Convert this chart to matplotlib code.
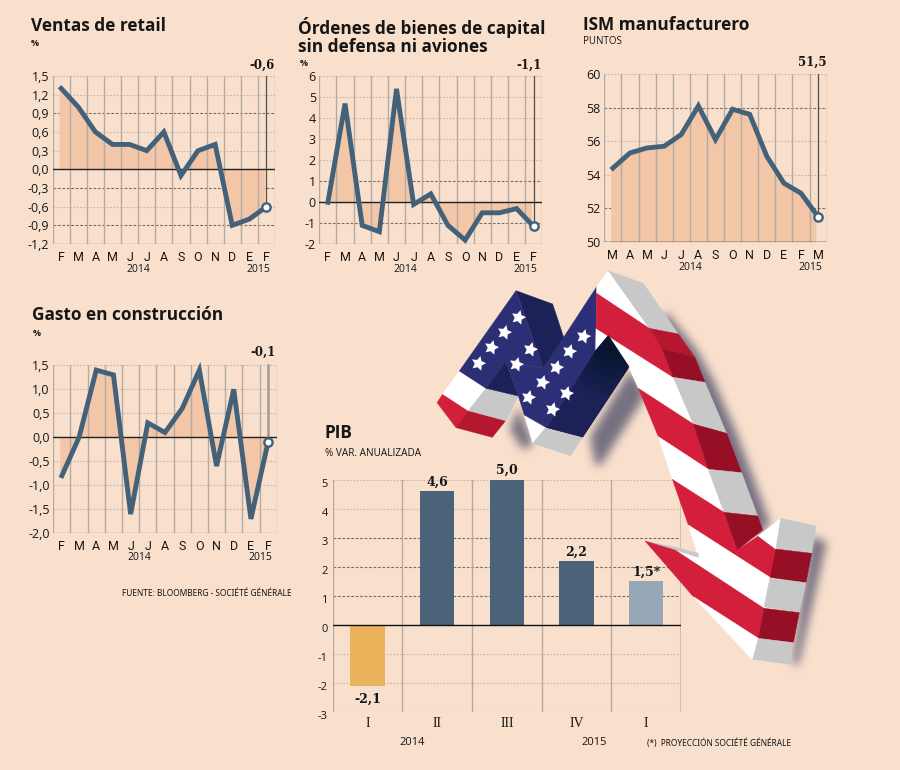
import numpy as np
import matplotlib
matplotlib.use("Agg")
import matplotlib.pyplot as plt
from matplotlib.patches import Polygon
from matplotlib.path import Path
from matplotlib.colors import to_rgb
from matplotlib.transforms import ScaledTranslation

W, H = 900, 770
BG = '#f9e0cd'
FILL = '#f3c6a8'
LINE = '#43627a'
GRID = '#b3aaa2'
TXT = '#161616'
SANS = 'Open Sans'
MONTH = 'Roboto'
SMALL = 'Noto Sans'
SERIF = 'DejaVu Serif'
TITLE = 12.4

# data
retail_months = ['F', 'M', 'A', 'M', 'J', 'J', 'A', 'S', 'O', 'N', 'D', 'E', 'F']
retail = [1.3, 1.0, 0.6, 0.4, 0.4, 0.3, 0.6, -0.1, 0.3, 0.4, -0.9, -0.8, -0.6]
retail_ticks = [1.5, 1.2, 0.9, 0.6, 0.3, 0.0, -0.3, -0.6, -0.9, -1.2]
retail_labels = ['1,5', '1,2', '0,9', '0,6', '0,3', '0,0', '-0,3', '-0,6', '-0,9', '-1,2']

orders_months = retail_months
orders = [0, 4.7, -1.1, -1.4, 5.4, -0.1, 0.4, -1.1, -1.8, -0.5, -0.5, -0.3, -1.15]
orders_ticks = [6, 5, 4, 3, 2, 1, 0, -1, -2]
orders_labels = ['6', '5', '4', '3', '2', '1', '0', '-1', '-2']

ism_months = ['M', 'A', 'M', 'J', 'J', 'A', 'S', 'O', 'N', 'D', 'E', 'F', 'M']
ism = [54.4, 55.3, 55.6, 55.7, 56.4, 58.1, 56.1, 57.9, 57.6, 55.1, 53.5, 52.9, 51.5]
ism_ticks = [60, 58, 56, 54, 52, 50]
ism_labels = ['60', '58', '56', '54', '52', '50']

constr_months = retail_months
constr = [-0.8, 0.0, 1.4, 1.3, -1.6, 0.3, 0.1, 0.6, 1.4, -0.6, 1.0, -1.7, -0.1]
constr_ticks = [1.5, 1.0, 0.5, 0.0, -0.5, -1.0, -1.5, -2.0]
constr_labels = ['1,5', '1,0', '0,5', '0,0', '-0,5', '-1,0', '-1,5', '-2,0']

quarters = ['I', 'II', 'III', 'IV', 'I']
pib = [-2.1, 4.6, 5.0, 2.2, 1.5]
pib_labels = ['-2,1', '4,6', '5,0', '2,2', '1,5*']
pib_colors = ['#ebb45c', '#4a6378', '#4a6378', '#4a6378', '#96a7b8']
pib_ticks = [5, 4, 3, 2, 1, 0, -1, -2, -3]

fig = plt.figure(figsize=(W / 100, H / 100), dpi=100, facecolor=BG)


def put(x, y, s, size=8, weight='normal', family=SANS, ha='left', color=TXT):
    fig.text(x / W, 1 - y / H, s, fontsize=size, fontweight=weight, family=family,
             ha=ha, va='center', color=color, zorder=5)


def box(x0, y0, x1, y1):
    ax = fig.add_axes([x0 / W, 1 - y1 / H, (x1 - x0) / W, (y1 - y0) / H])
    ax.patch.set_alpha(0)
    for s in ax.spines.values():
        s.set_visible(False)
    return ax


def month_chart(pos, months, values, ticks, labels, strong, end_text, end_xy,
                years, vcolor='#4f4f4f', vwidth=0.9, floor=0.0):
    ax = box(*pos)
    x = np.arange(len(values))
    ax.set_xlim(-0.5, 12.5)
    ax.set_ylim(ticks[-1], ticks[0])

    for t in ticks:
        if t in strong:
            ax.axhline(t, color='#77706a', lw=0.8, ls=(0, (2.5, 1.5)), zorder=1)
        else:
            ax.axhline(t, color='#c4b6aa', lw=0.8, ls=(0, (1.5, 1.5)), zorder=1)
    ax.fill_between(x - 0.13, values, floor, color=FILL, lw=0, interpolate=True, zorder=2)
    for v in np.arange(-0.5, 12.6):
        ax.axvline(v, color=GRID, lw=1.0, zorder=3)
    ax.plot([x[-1], x[-1]], [values[-1], ticks[0]], color=vcolor, lw=vwidth, zorder=3,
            clip_on=False)
    ax.axhline(floor, color='#222222', lw=1.0, zorder=4)
    ax.axhline(ticks[-1], color='#8f8780', lw=0.9, zorder=3)
    ax.plot(x, values, color=LINE, lw=3.5, solid_joinstyle='miter', zorder=5, clip_on=False)
    ax.plot(x[-1], values[-1], 'o', ms=6, mfc='white', mec=LINE, mew=1.7, zorder=6,
            clip_on=False)

    ax.set_xticks(x, months)
    ax.set_yticks(ticks, labels)
    ax.tick_params(length=0, labelsize=9, labelcolor=TXT)
    ax.tick_params(axis='x', pad=5)
    ax.tick_params(axis='y', pad=2.5)
    for lb in ax.get_yticklabels():
        lb.set_family(SANS)
    for lb in ax.get_xticklabels():
        lb.set_family(MONTH)

    put(end_xy[0], end_xy[1], end_text, size=8.5, weight='bold', family=SERIF, ha='center')
    for yx, yy, ys in years:
        put(yx, yy, ys, size=7.5, ha='center')
    return ax


month_chart((52.7, 76, 275, 244), retail_months, retail, retail_ticks, retail_labels,
            [0.9, -0.3, -0.9], '-0,6', (262, 65), [(138, 270, '2014'), (258, 270, '2015')])
month_chart((319.3, 76.3, 542.3, 244.3), orders_months, orders, orders_ticks, orders_labels,
            [1, -1], '-1,1', (529, 65.5), [(405, 270, '2014'), (525.7, 270, '2015')])
month_chart((604.3, 74, 826.7, 242), ism_months, ism, ism_ticks, ism_labels,
            [58, 52], '51,5', (812.7, 62.7), [(690, 268, '2014'), (810, 268, '2015')],
            floor=50)
month_chart((53.3, 365.3, 276.7, 533.3), constr_months, constr, constr_ticks, constr_labels,
            [], '-0,1', (263, 352.7), [(139.7, 558, '2014'), (260, 558, '2015')],
            vcolor='#a39a92', vwidth=1.8)

# titles
put(31, 26, 'Ventas de retail', TITLE, 'bold')
put(31, 44, '%', 6.5, 'bold')
put(298, 27, 'Órdenes de bienes de capital', TITLE, 'bold')
put(298, 47, 'sin defensa ni aviones', TITLE, 'bold')
put(300, 63, '%', 6.5, 'bold')
put(583, 25, 'ISM manufacturero', TITLE, 'bold')
put(583, 42, 'PUNTOS', 7)
put(32, 315, 'Gasto en construcción', TITLE, 'bold')
put(33, 333, '%', 6.5, 'bold')
put(122, 593, 'FUENTE: BLOOMBERG - SOCIÉTÉ GÉNÉRALE', 6, 'bold', SMALL)
put(325, 433, 'PIB', TITLE, 'bold')
put(325, 453, '% VAR. ANUALIZADA', 7.2)
put(399, 742.7, '2014', 8)
put(581, 742.7, '2015', 8)
put(647, 743, '(*)  PROYECCIÓN SOCIÉTÉ GÉNÉRALE', 6, 'bold', SMALL)

# GDP bars
ax = box(333.3, 479.7, 681, 711.7)
qx = np.arange(len(pib))
ax.set_xlim(-0.49, 4.5)
ax.set_ylim(-3, 5)
for t in pib_ticks:
    if t in (3, 2, 1):
        ax.axhline(t, color='#77706a', lw=0.8, ls=(0, (2.5, 1.5)), zorder=1)
    elif t != 0:
        ax.axhline(t, color='#c4b6aa', lw=0.8, ls=(0, (1.5, 1.5)), zorder=1)
for v in [-0.49, 0.5, 1.5, 2.5, 3.5]:
    ax.axvline(v, color=GRID, lw=1.0, zorder=2)
ax.axvline(4.5, color='#cdbfb3', lw=1.5, zorder=2)
ax.bar(qx, pib, width=0.49, color=pib_colors, zorder=3)
ax.axhline(0, color='#111111', lw=1.0, zorder=4)
ax.set_xticks(qx, quarters, family='Liberation Serif', fontsize=10)
ax.set_yticks(pib_ticks, [str(t) for t in pib_ticks], family=SANS, fontsize=8)
ax.tick_params(length=0, labelcolor=TXT)
ax.tick_params(axis='x', pad=4)
ax.tick_params(axis='y', pad=4)
shift = ScaledTranslation(0, -3.5 / 100, fig.dpi_scale_trans)
for lb in ax.get_yticklabels():
    lb.set_transform(lb.get_transform() + shift)
for q, v, s in zip(qx, pib, pib_labels):
    ax.annotate(s, (q, v), xytext=(0, 6.5 if v > 0 else -10), textcoords='offset points',
                ha='center', va='center', fontsize=9, fontweight='bold', family=SERIF,
                color=TXT, zorder=5)

# flag illustration, outlines traced in a 3x frame starting at (430, 260)
RED, DRED, MRED = '#d41f3c', '#960f25', '#b5172f'
GRAY, WHITE = '#c8c8c8', '#ffffff'
NAVY, DNAVY, XNAVY = '#2d2f76', '#1c2258', '#06142a'

shadow_parts = [
    [(240, 510), (265, 440), (310, 550), (280, 570)],
    [(480, 530), (600, 330), (650, 400), (510, 620), (495, 610)],
    [(705, 150), (800, 270), (850, 360), (920, 520), (965, 640), (1020, 790), (985, 830),
     (880, 640), (790, 400), (700, 200)],
    [(1145, 830), (1190, 845), (1105, 1215), (1085, 1210)],
]
flag_parts = [
    (RED, [(21, 428), (38, 402), (115, 452), (78, 503)]),
    (MRED, [(115, 452), (227, 482), (187, 532), (78, 503)]),
    (WHITE, [(38, 402), (88, 333), (168, 385), (115, 452)]),
    (GRAY, [(115, 452), (168, 385), (265, 408), (227, 482)]),
    (DNAVY, [(258, 92), (368, 132), (402, 235), (340, 325)]),
    (NAVY, [(88, 333), (258, 92), (340, 325), (228, 305), (168, 385)]),
    (DNAVY, [(168, 385), (228, 305), (265, 408)]),
    (WHITE, [(283, 465), (345, 505), (308, 550)]),
    (NAVY, [(228, 305), (340, 325), (500, 80), (497, 270), (350, 503), (283, 465), (265, 408)]),
    (GRAY, [(345, 505), (458, 532), (422, 587), (308, 550)]),
    (WHITE, [(498, 205), (730, 352), (790, 492), (625, 385), (598, 325), (535, 225), (497, 270)]),
    (WHITE, [(500, 80), (535, 32), (658, 205), (500, 100)]),
    (GRAY, [(535, 32), (640, 70), (745, 222), (658, 205)]),
    (RED, [(500, 100), (658, 205), (695, 265), (730, 352), (498, 205)]),
    (MRED, [(658, 205), (745, 222), (795, 293), (695, 265)]),
    (DRED, [(695, 265), (795, 293), (825, 367), (730, 352)]),
    (GRAY, [(730, 352), (825, 367), (890, 520), (790, 492)]),
    (RED, [(625, 385), (790, 492), (835, 628), (685, 530)]),
    (DRED, [(790, 492), (890, 520), (935, 638), (835, 628)]),
    (WHITE, [(685, 530), (835, 628), (882, 757), (727, 658)]),
    (GRAY, [(835, 628), (935, 638), (983, 768), (882, 757)]),
    (RED, [(727, 658), (882, 757), (922, 870), (985, 828), (1037, 865), (1020, 955), (775, 795)]),
    (DRED, [(882, 757), (983, 768), (998, 810), (922, 870)]),
    (WHITE, [(985, 828), (1052, 775), (1038, 868)]),
    (GRAY, [(1052, 775), (1158, 798), (1145, 880), (1038, 865)]),
    (DRED, [(1037, 867), (1145, 880), (1128, 968), (1020, 952)]),
    (WHITE, [(775, 795), (1020, 952), (1002, 1045), (735, 870), (805, 890)]),
    (GRAY, [(645, 843), (740, 862), (805, 880), (805, 892), (735, 870)]),
    (RED, [(645, 843), (735, 870), (1002, 1045), (985, 1135), (790, 1010)]),
    (WHITE, [(790, 1010), (985, 1135), (968, 1200)]),
    (GRAY, [(1020, 955), (1128, 968), (1108, 1058), (1002, 1040)]),
    (DRED, [(1002, 1045), (1108, 1058), (1090, 1148), (985, 1135)]),
    (GRAY, [(985, 1135), (1090, 1148), (1080, 1213), (968, 1198)]),
]
dark_panel = [(350, 503), (497, 270), (535, 225), (598, 320), (458, 532)]
star_x = [143, 183, 223, 265, 258, 300, 295, 337, 377, 417, 458, 367, 407]
star_y = [308, 260, 215, 170, 312, 268, 410, 365, 320, 272, 228, 448, 398]


def to_px(pts):
    return [(430 + a / 3, 260 + b / 3) for a, b in pts]


def blur(a, n=9, passes=3):
    k = np.ones(n) / n
    for _ in range(passes):
        a = np.apply_along_axis(np.convolve, 0, a, k, mode='same')
        a = np.apply_along_axis(np.convolve, 1, a, k, mode='same')
    return a


art = fig.add_axes([0, 0, 1, 1], zorder=10)
art.axis('off')

# soft shadow behind the flag
gx, gy = np.meshgrid(np.arange(W) + 0.5, np.arange(H) + 0.5)
grid = np.column_stack([gx.ravel(), gy.ravel()])
mask = np.zeros((H, W))
for pts in shadow_parts:
    mask += Path(to_px(pts)).contains_points(grid).reshape(H, W)
shade = np.dstack([np.full((H, W), c) for c in to_rgb('#55546e')] + [np.clip(blur(mask), 0, 1) * 0.8])
art.imshow(shade, extent=(0, W, H, 0), zorder=1, interpolation='bilinear')

for col, pts in flag_parts:
    art.add_patch(Polygon(to_px(pts), closed=True, fc=col, ec=col, lw=0.3, zorder=3))

# dark navy panel fades to near black at the fold
pnl = Polygon(to_px(dark_panel), closed=True, fc=DNAVY, ec=DNAVY, lw=0.3, zorder=2.9)
art.add_patch(pnl)
dist = np.hypot(gx - (430 + 550 / 3), gy - (260 + 265 / 3))
t = np.clip(dist / 55, 0, 1)[..., None]
grad = np.array(to_rgb(XNAVY)) * (1 - t) + np.array(to_rgb(DNAVY)) * t
im = art.imshow(grad, extent=(0, W, H, 0), zorder=3.1)
im.set_clip_path(pnl)

art.scatter(430 + np.array(star_x) / 3, 260 + np.array(star_y) / 3, s=120,
            marker=(5, 1, -15), c='white', lw=0, zorder=5)
art.set_xlim(0, W)
art.set_ylim(H, 0)
art.set_aspect('auto')

fig.savefig('out.png', dpi=100, facecolor=BG)
